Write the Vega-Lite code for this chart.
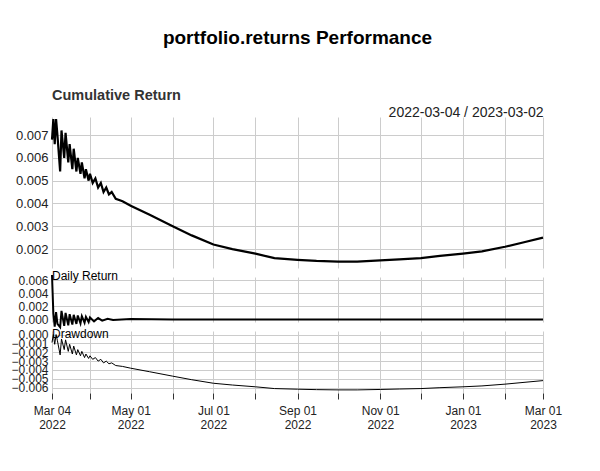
{
  "$schema": "https://vega.github.io/schema/vega-lite/v6.json",
  "title": {"text": "portfolio.returns Performance", "fontSize": 19, "font": "Liberation Sans", "fontWeight": "bold", "offset": 40, "anchor": "middle", "frame": "group"},
  "background": "white",
  "bounds": "flush",
  "padding": {"left": 10, "top": 28, "right": 50, "bottom": 5},
  "config": {
    "font": "Liberation Sans",
    "view": {"stroke": null},
    "axis": {"gridColor": "#cccccc", "labelColor": "#222", "labelFontSize": 13, "domain": false, "tickColor": "#333"},
    "concat": {"spacing": 9}
  },
  "datasets": {
    "cum": [
      {"date": "2022-03-04", "cum": 0.0068, "dd": -0.0009},
      {"date": "2022-03-05", "cum": 0.0077, "dd": 0.0},
      {"date": "2022-03-06", "cum": 0.0066, "dd": -0.0011},
      {"date": "2022-03-07", "cum": 0.0077, "dd": 0.0},
      {"date": "2022-03-08", "cum": 0.0070, "dd": -0.0007},
      {"date": "2022-03-10", "cum": 0.0054, "dd": -0.0023},
      {"date": "2022-03-11", "cum": 0.0072, "dd": -0.0005},
      {"date": "2022-03-13", "cum": 0.0060, "dd": -0.0017},
      {"date": "2022-03-14", "cum": 0.0071, "dd": -0.0006},
      {"date": "2022-03-16", "cum": 0.0058, "dd": -0.0019},
      {"date": "2022-03-17", "cum": 0.0066, "dd": -0.0011},
      {"date": "2022-03-19", "cum": 0.0055, "dd": -0.0022},
      {"date": "2022-03-20", "cum": 0.0064, "dd": -0.0013},
      {"date": "2022-03-22", "cum": 0.0054, "dd": -0.0023},
      {"date": "2022-03-23", "cum": 0.0060, "dd": -0.0017},
      {"date": "2022-03-25", "cum": 0.0053, "dd": -0.0024},
      {"date": "2022-03-26", "cum": 0.0058, "dd": -0.0019},
      {"date": "2022-03-28", "cum": 0.0051, "dd": -0.0026},
      {"date": "2022-03-29", "cum": 0.0055, "dd": -0.0022},
      {"date": "2022-03-31", "cum": 0.0050, "dd": -0.0027},
      {"date": "2022-04-01", "cum": 0.0053, "dd": -0.0024},
      {"date": "2022-04-03", "cum": 0.0049, "dd": -0.0028},
      {"date": "2022-04-05", "cum": 0.0051, "dd": -0.0026},
      {"date": "2022-04-07", "cum": 0.0047, "dd": -0.0030},
      {"date": "2022-04-09", "cum": 0.0049, "dd": -0.0028},
      {"date": "2022-04-11", "cum": 0.0045, "dd": -0.0032},
      {"date": "2022-04-13", "cum": 0.0047, "dd": -0.0030},
      {"date": "2022-04-15", "cum": 0.0044, "dd": -0.0033},
      {"date": "2022-04-17", "cum": 0.0045, "dd": -0.0032},
      {"date": "2022-04-20", "cum": 0.0042, "dd": -0.0035},
      {"date": "2022-04-25", "cum": 0.0041, "dd": -0.0036},
      {"date": "2022-05-01", "cum": 0.0039, "dd": -0.0038},
      {"date": "2022-05-15", "cum": 0.0035, "dd": -0.0042},
      {"date": "2022-06-01", "cum": 0.0030, "dd": -0.0047},
      {"date": "2022-06-15", "cum": 0.0026, "dd": -0.0051},
      {"date": "2022-07-01", "cum": 0.0022, "dd": -0.0055},
      {"date": "2022-07-15", "cum": 0.0020, "dd": -0.0057},
      {"date": "2022-08-01", "cum": 0.0018, "dd": -0.0059},
      {"date": "2022-08-15", "cum": 0.0016, "dd": -0.0061},
      {"date": "2022-09-01", "cum": 0.00153, "dd": -0.00617},
      {"date": "2022-09-15", "cum": 0.00148, "dd": -0.00622},
      {"date": "2022-10-01", "cum": 0.00145, "dd": -0.00625},
      {"date": "2022-10-15", "cum": 0.00145, "dd": -0.00625},
      {"date": "2022-11-01", "cum": 0.0015, "dd": -0.0062},
      {"date": "2022-11-15", "cum": 0.00155, "dd": -0.00615},
      {"date": "2022-12-01", "cum": 0.0016, "dd": -0.0061},
      {"date": "2022-12-15", "cum": 0.0017, "dd": -0.0060},
      {"date": "2023-01-01", "cum": 0.0018, "dd": -0.0059},
      {"date": "2023-01-15", "cum": 0.0019, "dd": -0.0058},
      {"date": "2023-02-01", "cum": 0.0021, "dd": -0.0056},
      {"date": "2023-02-15", "cum": 0.0023, "dd": -0.0054},
      {"date": "2023-03-01", "cum": 0.0025, "dd": -0.0052}
    ],
    "daily": [
      {"date": "2022-03-04", "r": 0.0068},
      {"date": "2022-03-05", "r": 0.0009},
      {"date": "2022-03-06", "r": -0.0011},
      {"date": "2022-03-07", "r": 0.0011},
      {"date": "2022-03-08", "r": -0.0007},
      {"date": "2022-03-10", "r": -0.0012},
      {"date": "2022-03-11", "r": 0.0013},
      {"date": "2022-03-13", "r": -0.0010},
      {"date": "2022-03-14", "r": 0.0010},
      {"date": "2022-03-16", "r": -0.0009},
      {"date": "2022-03-17", "r": 0.0008},
      {"date": "2022-03-19", "r": -0.0008},
      {"date": "2022-03-20", "r": 0.0007},
      {"date": "2022-03-22", "r": -0.0007},
      {"date": "2022-03-23", "r": 0.0006},
      {"date": "2022-03-25", "r": -0.0006},
      {"date": "2022-03-26", "r": 0.0005},
      {"date": "2022-03-28", "r": -0.0005},
      {"date": "2022-03-29", "r": 0.0004},
      {"date": "2022-03-31", "r": -0.0004},
      {"date": "2022-04-01", "r": 0.0003},
      {"date": "2022-04-04", "r": -0.0003},
      {"date": "2022-04-07", "r": 0.0002},
      {"date": "2022-04-10", "r": -0.0002},
      {"date": "2022-04-14", "r": 0.0001},
      {"date": "2022-04-18", "r": -0.0001},
      {"date": "2022-05-01", "r": 0.00005},
      {"date": "2022-06-01", "r": -0.00003},
      {"date": "2022-07-01", "r": 0.0},
      {"date": "2022-09-01", "r": 0.0},
      {"date": "2022-11-01", "r": 0.0},
      {"date": "2023-01-01", "r": 0.0},
      {"date": "2023-03-01", "r": 0.0}
    ]
  },
  "vconcat": [
    {
      "width": 491,
      "height": 151,
      "title": {"text": "Cumulative Return", "anchor": "start", "frame": "group", "fontSize": 14.5, "fontWeight": "bold", "offset": 2, "color": "#333"},
      "data": {"name": "cum"},
      "mark": {"type": "line", "color": "black", "strokeWidth": 2.2},
      "encoding": {
        "x": {"field": "date", "type": "temporal", "scale": {"domain": ["2022-03-04", "2023-03-01"], "nice": false},
          "axis": {"orient": "top", "labels": false, "ticks": false, "title": "2022-03-04 / 2023-03-02", "titleAnchor": "end", "titleFontWeight": "normal", "titleFontSize": 14, "titlePadding": -2, "titleColor": "#222",
            "values": [{"year": 2022, "month": 3, "date": 4, "utc": true}, {"year": 2022, "month": 4, "date": 1, "utc": true}, {"year": 2022, "month": 5, "date": 1, "utc": true}, {"year": 2022, "month": 6, "date": 1, "utc": true}, {"year": 2022, "month": 7, "date": 1, "utc": true}, {"year": 2022, "month": 8, "date": 1, "utc": true}, {"year": 2022, "month": 9, "date": 1, "utc": true}, {"year": 2022, "month": 10, "date": 1, "utc": true}, {"year": 2022, "month": 11, "date": 1, "utc": true}, {"year": 2022, "month": 12, "date": 1, "utc": true}, {"year": 2023, "month": 1, "date": 1, "utc": true}, {"year": 2023, "month": 2, "date": 1, "utc": true}, {"year": 2023, "month": 3, "date": 1, "utc": true}]}},
        "y": {"field": "cum", "type": "quantitative", "scale": {"domain": [0.00117, 0.00779], "nice": false, "zero": false},
          "axis": {"title": null, "values": [0.002, 0.003, 0.004, 0.005, 0.006, 0.007], "format": ".3f", "ticks": false, "labelPadding": 4}}
      }
    },
    {
      "width": 491,
      "height": 45,
      "title": {"text": "Daily Return", "anchor": "start", "frame": "group", "fontSize": 12, "fontWeight": "normal", "offset": -12, "color": "black"},
      "data": {"name": "daily"},
      "mark": {"type": "line", "color": "black", "strokeWidth": 2},
      "encoding": {
        "x": {"field": "date", "type": "temporal", "scale": {"domain": ["2022-03-04", "2023-03-01"], "nice": false},
          "axis": {"labels": false, "ticks": false, "title": null,
            "values": [{"year": 2022, "month": 3, "date": 4, "utc": true}, {"year": 2022, "month": 4, "date": 1, "utc": true}, {"year": 2022, "month": 5, "date": 1, "utc": true}, {"year": 2022, "month": 6, "date": 1, "utc": true}, {"year": 2022, "month": 7, "date": 1, "utc": true}, {"year": 2022, "month": 8, "date": 1, "utc": true}, {"year": 2022, "month": 9, "date": 1, "utc": true}, {"year": 2022, "month": 10, "date": 1, "utc": true}, {"year": 2022, "month": 11, "date": 1, "utc": true}, {"year": 2022, "month": 12, "date": 1, "utc": true}, {"year": 2023, "month": 1, "date": 1, "utc": true}, {"year": 2023, "month": 2, "date": 1, "utc": true}, {"year": 2023, "month": 3, "date": 1, "utc": true}]}},
        "y": {"field": "r", "type": "quantitative", "scale": {"domain": [-0.0004, 0.0065], "nice": false},
          "axis": {"title": null, "values": [0, 0.002, 0.004, 0.006], "format": ".3f", "ticks": false, "labelPadding": 4, "labelFontSize": 12, "labelOverlap": false, "labelBound": false}}
      }
    },
    {
      "width": 491,
      "height": 62,
      "title": {"text": "Drawdown", "anchor": "start", "frame": "group", "fontSize": 12, "fontWeight": "normal", "offset": -12, "color": "black"},
      "data": {"name": "cum"},
      "mark": {"type": "line", "color": "black", "strokeWidth": 1},
      "encoding": {
        "x": {"field": "date", "type": "temporal", "scale": {"domain": ["2022-03-04", "2023-03-01"], "nice": false},
          "axis": {"title": null, "ticks": true, "tickSize": 6, "labelPadding": 6, "labelFontSize": 12, "labelAlign": "center", "labelOverlap": false, "labelBound": false,
            "values": [{"year": 2022, "month": 3, "date": 4, "utc": true}, {"year": 2022, "month": 4, "date": 1, "utc": true}, {"year": 2022, "month": 5, "date": 1, "utc": true}, {"year": 2022, "month": 6, "date": 1, "utc": true}, {"year": 2022, "month": 7, "date": 1, "utc": true}, {"year": 2022, "month": 8, "date": 1, "utc": true}, {"year": 2022, "month": 9, "date": 1, "utc": true}, {"year": 2022, "month": 10, "date": 1, "utc": true}, {"year": 2022, "month": 11, "date": 1, "utc": true}, {"year": 2022, "month": 12, "date": 1, "utc": true}, {"year": 2023, "month": 1, "date": 1, "utc": true}, {"year": 2023, "month": 2, "date": 1, "utc": true}, {"year": 2023, "month": 3, "date": 1, "utc": true}],
            "labelExpr": "(utcmonth(datum.value) % 2 == 0) ? [utcFormat(datum.value, '%b %d'), utcFormat(datum.value, '%Y')] : ''"}},
        "y": {"field": "dd", "type": "quantitative", "scale": {"domain": [-0.0066, 0.0004], "nice": false},
          "axis": {"title": null, "values": [0, -0.001, -0.002, -0.003, -0.004, -0.005, -0.006], "format": ".3f", "ticks": false, "labelPadding": 4, "labelFontSize": 12, "labelOverlap": false, "labelBound": false}}
      }
    }
  ]
}
